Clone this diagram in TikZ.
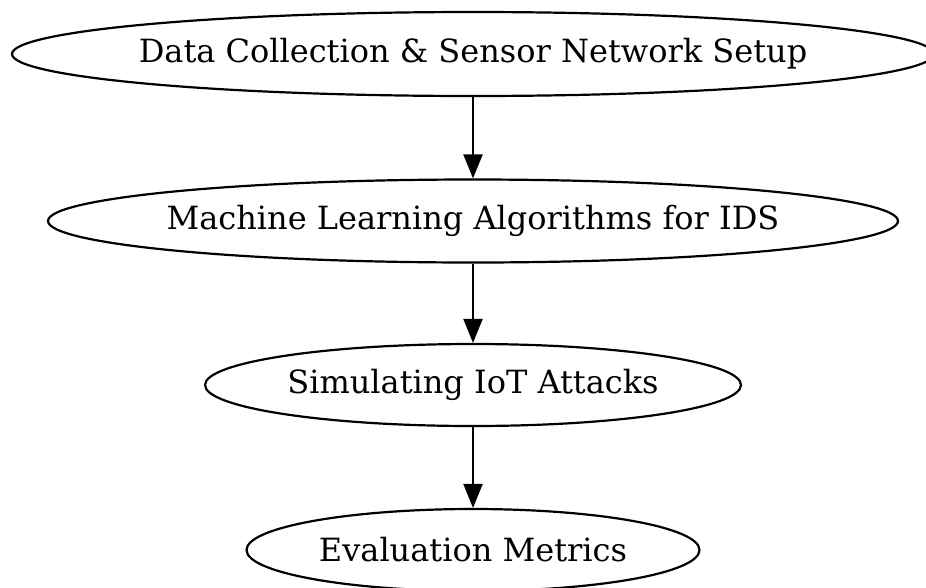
\documentclass[tikz,border=0pt]{standalone}
\usepackage{fontspec}
\setmainfont{DejaVu Serif}
\usetikzlibrary{shapes.geometric,arrows.meta}
\begin{document}
\begin{tikzpicture}[x=1pt,y=-1pt,
  stage/.style={ellipse,draw,line width=2.2pt,inner sep=0pt,
    label={[font=\fontsize{32}{36}\selectfont,inner sep=0pt]center:#1}},
  flow/.style={line width=2.2pt,-{Triangle[length=24pt,width=19pt]}}]
\useasboundingbox (0,0) rectangle (926,587);
\node[stage={Data Collection \& Sensor Network Setup},minimum width=922pt,minimum height=84pt] (a) at (473,54) {};
\node[stage={Machine Learning Algorithms for IDS},minimum width=850pt,minimum height=83pt] (b) at (473,221) {};
\node[stage={Simulating IoT Attacks},minimum width=536pt,minimum height=82pt] (c) at (473,385) {};
\node[stage={Evaluation Metrics},minimum width=453pt,minimum height=82pt] (d) at (473,550) {};
\draw[flow] (a.south) -- (b.north);
\draw[flow] (b.south) -- (c.north);
\draw[flow] (c.south) -- (d.north);
\end{tikzpicture}
\end{document}
